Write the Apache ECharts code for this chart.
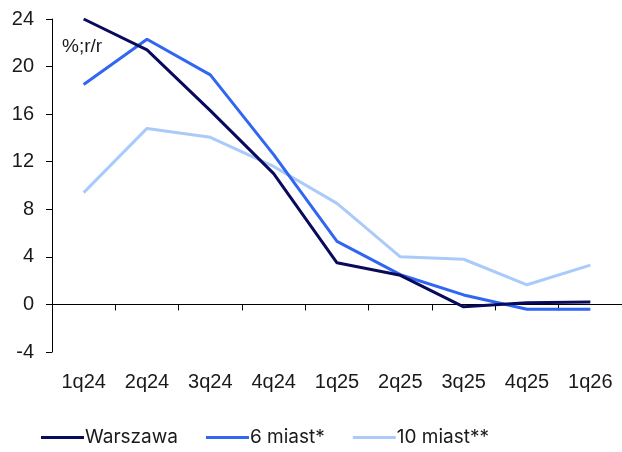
<!DOCTYPE html>
<html><head><meta charset="utf-8">
<script src="https://cdn.jsdelivr.net/npm/echarts@6/dist/echarts.min.js"></script>
<style>html,body{margin:0;padding:0;background:#fff}#c{width:622px;height:452px}</style>
</head><body><div id="c"></div>
<script>
const categories = ['1q24','2q24','3q24','4q24','1q25','2q25','3q25','4q25','1q26'];
const warszawa = [24.0, 21.4, 16.3, 11.0, 3.5, 2.45, -0.2, 0.15, 0.2];
const miast6 = [18.5, 22.3, 19.3, 12.6, 5.3, 2.5, 0.8, -0.4, -0.4];
const miast10 = [9.4, 14.8, 14.05, 11.6, 8.5, 4.0, 3.8, 1.65, 3.3];
const seriesNames = ['Warszawa', '6 miast*', '10 miast**'];
const colors = ['#0a0a5c', '#3066f2', '#aacbfa'];
const yTicks = {min: -4, max: 24, interval: 4};

const chart = echarts.init(document.getElementById('c'), null, {renderer: 'canvas'});
const font = 'Liberation Sans, Arial, sans-serif';
chart.setOption({
  animation: false,
  color: colors,
  grid: {left: 52, right: -2, top: 19, bottom: 100},
  graphic: [{type: 'text', left: 62, top: 37, style: {text: '%;r/r', font: '19px ' + font, fill: '#1a1a1a'}}],
  legend: {
    bottom: 0, left: 36,
    itemWidth: 43, itemHeight: 3, itemGap: 28,
    icon: 'rect',
    textStyle: {fontFamily: 'Inter, sans-serif', fontSize: 19, color: '#1a1a1a', padding: [0,0,0,-4]},
    data: seriesNames
  },
  xAxis: {
    type: 'category', data: categories, boundaryGap: true,
    axisLine: {onZero: true, lineStyle: {color: '#000', width: 1}},
    axisTick: {show: true, length: 6, lineStyle: {color: '#000'}},
    axisLabel: {margin: 20, fontFamily: font, fontSize: 20, color: '#1a1a1a'},
    splitLine: {show: false}
  },
  yAxis: {
    type: 'value', min: yTicks.min, max: yTicks.max, interval: yTicks.interval,
    axisLine: {show: true, lineStyle: {color: '#000', width: 1}},
    axisTick: {show: true, length: 6, lineStyle: {color: '#000'}},
    axisLabel: {margin: 18, fontFamily: font, fontSize: 20, color: '#1a1a1a'},
    splitLine: {show: false}
  },
  series: [
    {name: seriesNames[0], type: 'line', data: warszawa, symbol: 'none', lineStyle: {width: 3}, z: 4},
    {name: seriesNames[1], type: 'line', data: miast6, symbol: 'none', lineStyle: {width: 3}, z: 3},
    {name: seriesNames[2], type: 'line', data: miast10, symbol: 'none', lineStyle: {width: 3}, z: 2}
  ]
});
</script></body></html>
